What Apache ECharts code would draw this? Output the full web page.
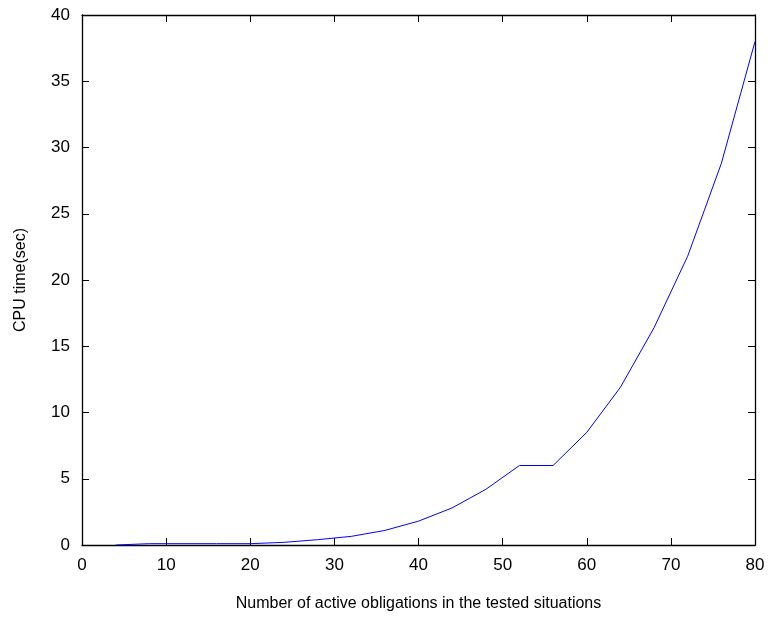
<!DOCTYPE html>
<html>
<head>
<meta charset="utf-8">
<script src="https://cdn.jsdelivr.net/npm/echarts@6/dist/echarts.min.js"></script>
<style>
  html, body { margin: 0; padding: 0; background: #fff; }
  #main { width: 768px; height: 617px; }
</style>
</head>
<body>
<div id="main"></div>
<script>
// number of active obligations
var obligations = [4, 8, 12, 16, 20, 24, 28, 32, 36, 40, 44, 48, 52, 56, 60, 64, 68, 72, 76, 80];
// CPU time in seconds
var cpuTime = [0, 0.1, 0.1, 0.1, 0.1, 0.2, 0.4, 0.65, 1.1, 1.8, 2.8, 4.2, 6.0, 6.0, 8.5, 11.9, 16.4, 21.8, 28.8, 38.0];

var points = obligations.map(function (x, i) { return [x, cpuTime[i]]; });

var fontName = 'Liberation Sans';
var frameLine = { show: true, onZero: false, lineStyle: { color: '#000', width: 1.3 } };
var tick = { show: true, inside: true, length: 7, lineStyle: { color: '#000', width: 1 } };

var option = {
    animation: false,
    backgroundColor: '#fff',
    grid: { left: 82, right: 13, top: 15, bottom: 68, containLabel: false },
    xAxis: [
        {
            type: 'value', min: 0, max: 80, interval: 10,
            name: 'Number of active obligations in the tested situations',
            nameLocation: 'middle', nameGap: 51,
            nameTextStyle: { fontFamily: fontName, fontSize: 16, color: '#000' },
            axisLine: frameLine, axisTick: tick,
            axisLabel: { fontFamily: fontName, fontSize: 17, color: '#000', margin: 12 },
            splitLine: { show: false }
        },
        {
            type: 'value', min: 0, max: 80, interval: 10, position: 'top',
            axisLine: frameLine, axisTick: tick,
            axisLabel: { show: false }, splitLine: { show: false }
        }
    ],
    yAxis: [
        {
            type: 'value', min: 0, max: 40, interval: 5,
            name: 'CPU time(sec)',
            nameLocation: 'middle', nameGap: 53,
            nameTextStyle: { fontFamily: fontName, fontSize: 16, color: '#000' },
            axisLine: frameLine, axisTick: tick,
            axisLabel: { fontFamily: fontName, fontSize: 17, color: '#000', margin: 12 },
            splitLine: { show: false }
        },
        {
            type: 'value', min: 0, max: 40, interval: 5, position: 'right',
            axisLine: frameLine, axisTick: tick,
            axisLabel: { show: false }, splitLine: { show: false }
        }
    ],
    series: [
        {
            type: 'line',
            data: points,
            showSymbol: false,
            lineStyle: { color: '#0000ff', width: 1 },
            itemStyle: { color: '#0000ff' }
        }
    ]
};

var myChart = echarts.init(document.getElementById('main'));
myChart.setOption(option);
</script>
</body>
</html>
